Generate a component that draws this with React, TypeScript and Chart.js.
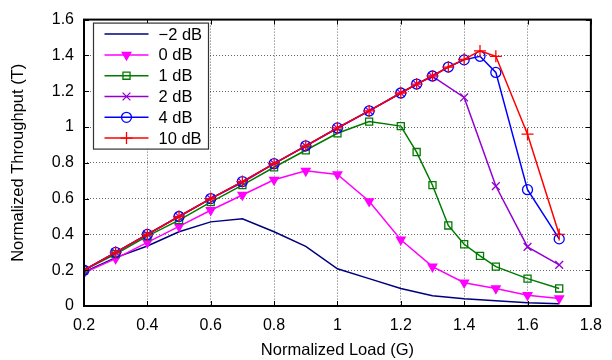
import React, { useEffect, useRef } from "react";
import { Chart, registerables } from "chart.js";
import { drawPoint } from "chart.js/helpers";

Chart.register(...registerables);

// ---- data ----
const xTicks = [0.2, 0.4, 0.6, 0.8, 1.0, 1.2, 1.4, 1.6, 1.8];
const yTicks = [0, 0.2, 0.4, 0.6, 0.8, 1.0, 1.2, 1.4, 1.6];

const loadCoarse = [0.2, 0.3, 0.4, 0.5, 0.6, 0.7, 0.8, 0.9, 1.0, 1.1, 1.2, 1.3, 1.4, 1.5, 1.6, 1.7];
const loadFine = [0.2, 0.3, 0.4, 0.5, 0.6, 0.7, 0.8, 0.9, 1.0, 1.1, 1.2, 1.25, 1.3, 1.35, 1.4, 1.45, 1.5, 1.6, 1.7];
const loadPurple = [0.2, 0.3, 0.4, 0.5, 0.6, 0.7, 0.8, 0.9, 1.0, 1.1, 1.2, 1.25, 1.3, 1.4, 1.5, 1.6, 1.7];

const tMinus2dB = [0.19, 0.27, 0.335, 0.415, 0.47, 0.487, 0.415, 0.333, 0.208, 0.153, 0.098, 0.057, 0.04, 0.03, 0.018, 0.012];
const t0dB = [0.185, 0.265, 0.355, 0.445, 0.535, 0.62, 0.705, 0.755, 0.735, 0.585, 0.37, 0.22, 0.13, 0.098, 0.06, 0.042];
const t1dB = [0.2, 0.29, 0.39, 0.48, 0.58, 0.675, 0.775, 0.87, 0.965, 1.03, 1.005, 0.86, 0.675, 0.45, 0.345, 0.28, 0.22, 0.153, 0.098];
const t2dB = [0.2, 0.3, 0.4, 0.5, 0.6, 0.69, 0.795, 0.893, 0.993, 1.09, 1.19, 1.24, 1.283, 1.165, 0.67, 0.33, 0.23];
const t4dB = [0.2, 0.3, 0.4, 0.5, 0.6, 0.695, 0.795, 0.895, 0.995, 1.09, 1.19, 1.24, 1.285, 1.335, 1.375, 1.395, 1.305, 0.65, 0.375];
const t10dB = [0.2, 0.3, 0.4, 0.5, 0.6, 0.695, 0.795, 0.895, 0.995, 1.09, 1.19, 1.24, 1.285, 1.335, 1.378, 1.425, 1.395, 0.96, 0.4];

const seriesLabels = ["\u22122 dB", "0 dB", "1 dB", "2 dB", "4 dB", "10 dB"];
const seriesColors = ["#00007f", "#ff00ff", "#007a00", "#9400d3", "#0000ff", "#ff0000"];

const FONT = "'Liberation Sans', Arial, Helvetica, sans-serif";

function pts(xs: number[], ys: number[]) {
  return xs.map((x, i) => ({ x, y: ys[i] }));
}

const framePlugin = {
  id: "frame",
  afterDatasetsDraw(chart: any) {
    const { ctx, chartArea, scales } = chart;
    const { left, right, top, bottom } = chartArea;
    ctx.save();
    // inner tick marks
    ctx.strokeStyle = "#000";
    ctx.lineWidth = 1;
    ctx.setLineDash([]);
    ctx.beginPath();
    for (const v of xTicks) {
      const px = Math.round(scales.x.getPixelForValue(v)) + 0.5;
      ctx.moveTo(px, bottom);
      ctx.lineTo(px, bottom - 5);
      ctx.moveTo(px, top);
      ctx.lineTo(px, top + 5);
    }
    for (const v of yTicks) {
      const py = Math.round(scales.y.getPixelForValue(v)) + 0.5;
      ctx.moveTo(left, py);
      ctx.lineTo(left + 5, py);
      ctx.moveTo(right, py);
      ctx.lineTo(right - 5, py);
    }
    ctx.stroke();
    // plot frame
    ctx.lineWidth = 2;
    ctx.strokeRect(left, top, right - left, bottom - top);

    // legend box
    const bx = left + 9.5;
    const by = top + 3.5;
    const bw = 115;
    const bh = 126;
    ctx.fillStyle = "#fff";
    ctx.fillRect(bx, by, bw, bh);
    ctx.strokeStyle = "#333";
    ctx.lineWidth = 1.2;
    ctx.strokeRect(bx, by, bw, bh);

    ctx.font = `16.5px ${FONT}`;
    ctx.textBaseline = "middle";
    ctx.textAlign = "left";
    chart.data.datasets.forEach((ds: any, i: number) => {
      const ry = by + 11 + i * 20.8;
      ctx.strokeStyle = ds.borderColor;
      ctx.lineWidth = 1.5;
      ctx.beginPath();
      ctx.moveTo(bx + 11, ry);
      ctx.lineTo(bx + 55, ry);
      ctx.stroke();
      if (ds.pointRadius > 0) {
        ctx.strokeStyle = ds.pointBorderColor;
        ctx.fillStyle = ds.pointBackgroundColor;
        ctx.lineWidth = ds.pointBorderWidth;
        drawPoint(ctx, {
          pointStyle: ds.pointStyle,
          rotation: ds.pointRotation || 0,
          radius: ds.pointRadius,
          borderWidth: ds.pointBorderWidth,
        } as any, bx + 33, ry);
      }
      ctx.fillStyle = "#000";
      ctx.fillText(ds.label, bx + 65, ry + 1);
    });
    ctx.restore();
  },
};

export default function App() {
  const ref = useRef<HTMLCanvasElement | null>(null);

  useEffect(() => {
    document.body.style.margin = "0";
    const canvas = ref.current;
    if (!canvas) return;
    Chart.defaults.font.family = FONT;
    Chart.defaults.font.size = 16;
    Chart.defaults.color = "#000";

    const mk = (i: number, xs: number[], ys: number[], style: any, radius: number, fill: string, extra: any = {}) => ({
      label: seriesLabels[i],
      data: pts(xs, ys),
      borderColor: seriesColors[i],
      backgroundColor: seriesColors[i],
      borderWidth: 1.5,
      pointStyle: style,
      pointRadius: radius,
      pointHoverRadius: radius,
      pointBorderColor: seriesColors[i],
      pointBackgroundColor: fill,
      pointBorderWidth: 1.3,
      tension: 0,
      fill: false,
      order: 6 - i,
      ...extra,
    });

    const chart = new Chart(canvas, {
      type: "line",
      data: {
        datasets: [
          mk(0, loadCoarse, tMinus2dB, "circle", 0, seriesColors[0]),
          mk(1, loadCoarse, t0dB, "triangle", 5, seriesColors[1], { pointRotation: 180 }),
          mk(2, loadFine, t1dB, "rect", 5, "rgba(0,0,0,0)"),
          mk(3, loadPurple, t2dB, "crossRot", 5.5, "rgba(0,0,0,0)"),
          mk(4, loadFine, t4dB, "circle", 5, "rgba(0,0,0,0)"),
          mk(5, loadFine, t10dB, "cross", 6, "rgba(0,0,0,0)"),
        ] as any,
      },
      options: {
        animation: false,
        responsive: false,
        maintainAspectRatio: false,
        layout: { padding: { top: 15, right: 14, left: 0, bottom: 0 } },
        plugins: { legend: { display: false }, tooltip: { enabled: false } },
        scales: {
          x: {
            type: "linear",
            min: 0.2,
            max: 1.8,
            afterBuildTicks: (s: any) => {
              s.ticks = xTicks.map((v) => ({ value: v }));
            },
            afterFit: (s: any) => {
              s.height = 54;
            },
            ticks: {
              padding: 10,
              maxRotation: 0,
              autoSkip: false,
              callback: (v: any) => String(Number(Number(v).toFixed(1))),
              font: { size: 16 },
            },
            grid: { color: "rgba(0,0,0,0.6)", lineWidth: 1, drawTicks: false },
            border: { display: false, dash: [1, 2] },
            title: { display: true, text: "Normalized Load (G)", font: { size: 16.5 }, padding: { top: 0, bottom: 0 } },
          },
          y: {
            type: "linear",
            min: 0,
            max: 1.6,
            afterBuildTicks: (s: any) => {
              s.ticks = yTicks.map((v) => ({ value: v }));
            },
            afterFit: (s: any) => {
              s.width = 84;
            },
            ticks: {
              padding: 10,
              autoSkip: false,
              callback: (v: any) => String(Number(Number(v).toFixed(1))),
              font: { size: 16 },
            },
            grid: { color: "rgba(0,0,0,0.6)", lineWidth: 1, drawTicks: false },
            border: { display: false, dash: [1, 2] },
            title: { display: true, text: "Normalized Throughput (T)", font: { size: 16.5 }, padding: { top: 8.4, bottom: 0 } },
          },
        },
      } as any,
      plugins: [framePlugin],
    });
    return () => chart.destroy();
  }, []);

  return (
    <div style={{ position: "fixed", left: 0, top: 0, width: 612, height: 360 }}>
      <canvas ref={ref} width={612} height={360} />
    </div>
  );
}
